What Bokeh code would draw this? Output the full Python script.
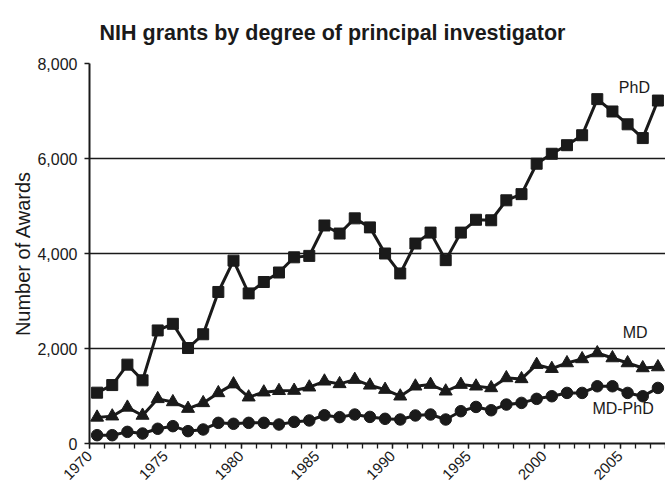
from bokeh.plotting import figure
from bokeh.models import (Range1d, FixedTicker, NumeralTickFormatter, Label,
                          ColumnDataSource, CustomJSTickFormatter)
from bokeh.embed import file_html
from bokeh.resources import INLINE
import math

years = list(range(1970, 2008))
phd = [1070, 1230, 1660, 1330, 2380, 2520, 2010, 2300, 3190, 3850,
       3160, 3400, 3600, 3920, 3950, 4590, 4420, 4740, 4550, 4000,
       3580, 4210, 4440, 3860, 4440, 4710, 4700, 5120, 5250, 5890,
       6100, 6280, 6490, 7250, 6990, 6720, 6430, 7220]
md = [550, 575, 760, 590, 940, 875, 735, 855, 1065, 1250,
      975, 1080, 1110, 1115, 1185, 1310, 1255, 1345, 1225, 1135,
      995, 1205, 1240, 1100, 1240, 1205, 1170, 1380, 1360, 1660,
      1575, 1695, 1780, 1905, 1800, 1695, 1590, 1610]
mdphd = [175, 175, 245, 210, 310, 365, 260, 295, 435, 415,
         435, 435, 400, 455, 485, 595, 555, 610, 560, 520,
         505, 590, 610, 505, 680, 770, 700, 820, 855, 940,
         995, 1065, 1065, 1205, 1205, 1065, 995, 1170]
x_tick_years = [1970, 1975, 1980, 1985, 1990, 1995, 2000, 2005]
y_ticks = [0, 2000, 4000, 6000, 8000]
series_names = ["PhD", "MD", "MD-PhD"]
title_text = "NIH grants by degree of principal investigator"

FONT = "Liberation Sans"
INK = "#1a1a1a"

src = ColumnDataSource(dict(year=years, phd=phd, md=md, mdphd=mdphd))

p = figure(width=665, height=487,
           x_range=Range1d(1969.5, 2007.5), y_range=Range1d(0, 8000),
           output_backend="svg", toolbar_location=None,
           min_border_left=89, min_border_right=0, min_border_top=63,
           min_border_bottom=43)

p.title.text = title_text
p.title.text_font = FONT
p.title.text_font_size = "21.5px"
p.title.text_font_style = "bold"
p.title.text_color = INK
p.title.align = "left"
p.title.offset = 10
p.title.vertical_align = "top"
p.title.standoff = 34

p.outline_line_color = None
p.background_fill_color = "white"
p.border_fill_color = "white"

# grid
p.xgrid.grid_line_color = None
p.ygrid.ticker = FixedTicker(ticks=y_ticks)
p.ygrid.grid_line_color = INK
p.ygrid.grid_line_width = 1.6

# x axis: ticks sit between the years; the rotated year label is placed on
# the tick just before its year so that the label ends at the year itself.
xax = p.below[0]
xax.ticker = FixedTicker(ticks=[y - 0.5 for y in x_tick_years],
                         minor_ticks=[y - 0.5 for y in years] + [2007.5])
xax.formatter = CustomJSTickFormatter(code="return (tick + 0.5).toFixed(0)")
xax.major_tick_out = 5
xax.major_tick_in = 0
xax.major_tick_line_color = INK
xax.major_tick_line_width = 1.3
xax.minor_tick_out = 5
xax.minor_tick_in = 0
xax.minor_tick_line_color = INK
xax.minor_tick_line_width = 1.3
xax.major_label_orientation = math.pi / 4
xax.major_label_standoff = 5
xax.major_label_text_font_size = "15px"

# y axis
yax = p.left[0]
yax.ticker = FixedTicker(ticks=y_ticks)
yax.formatter = NumeralTickFormatter(format="0,0")
yax.minor_tick_line_color = None
yax.major_tick_out = 5
yax.major_tick_in = 0
yax.major_tick_line_color = INK
yax.major_tick_line_width = 1.6
yax.major_label_standoff = 7
yax.major_label_text_font_size = "16px"
yax.axis_label = "Number of Awards"
yax.axis_label_text_font = FONT
yax.axis_label_text_font_size = "20px"
yax.axis_label_text_font_style = "normal"
yax.axis_label_text_color = INK
yax.axis_label_standoff = 0

for ax in (xax, yax):
    ax.axis_line_color = INK
    ax.axis_line_width = 2
    ax.major_label_text_font = FONT
    ax.major_label_text_color = INK

# series
p.line("year", "phd", source=src, line_color=INK, line_width=3)
p.scatter("year", "phd", source=src, marker="square", size=11,
          fill_color=INK, line_color=INK)
p.line("year", "md", source=src, line_color=INK, line_width=3)
p.scatter("year", "md", source=src, marker="triangle", size=13,
          fill_color=INK, line_color=INK)
p.line("year", "mdphd", source=src, line_color=INK, line_width=3)
p.scatter("year", "mdphd", source=src, marker="circle", size=11.5,
          fill_color=INK, line_color=INK)

label_pos = [(2005.45, 7500), (2005.5, 2330), (2004.7, 745)]
for name, (lx, ly) in zip(series_names, label_pos):
    p.add_layout(Label(x=lx, y=ly, text=name, text_align="center",
                       text_baseline="middle", text_font=FONT,
                       text_font_size="16px", text_color=INK))

open("out.html", "w").write(file_html(p, INLINE))
